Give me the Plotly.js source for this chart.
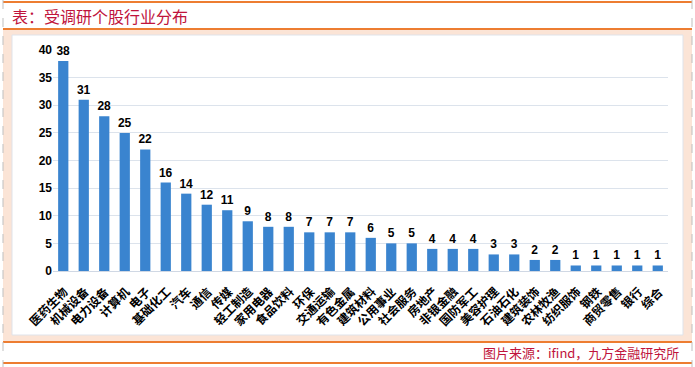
<!DOCTYPE html>
<html><head><meta charset="utf-8">
<script src="https://cdn.plot.ly/plotly-3.0.1.min.js"></script>
<style>html,body{margin:0;padding:0;background:#fff;}#chart{width:695px;height:367px;}</style>
</head><body><div id="chart"></div>
<script>
const categories = ["医药生物","机械设备","电力设备","计算机","电子","基础化工","汽车","通信","传媒","轻工制造","家用电器","食品饮料","环保","交通运输","有色金属","建筑材料","公用事业","社会服务","房地产","非银金融","国防军工","美容护理","石油石化","建筑装饰","农林牧渔","纺织服饰","钢铁","商贸零售","银行","综合"];
const counts = [38,31,28,25,22,16,14,12,11,9,8,8,7,7,7,6,5,5,4,4,4,3,3,2,2,1,1,1,1,1];
const yTicks = [0,5,10,15,20,25,30,35,40];
const titleText = "表：受调研个股行业分布";
const sourceText = "图片来源：ifind，九方金融研究所";

const W=695,H=367,L=53,R=27,T=50,B=96;
const pw=W-L-R, ph=H-T-B;
const px=v=>(v-L)/pw, py=v=>(H-B-v)/ph;

const shapes=[
 {type:'rect',xref:'paper',yref:'paper',x0:px(3),x1:px(692),y0:py(30),y1:py(342),fillcolor:'#fbe4d6',line:{width:0},layer:'below'},
 {type:'rect',xref:'paper',yref:'paper',x0:px(12),x1:px(683),y0:py(35),y1:py(335),fillcolor:'#ffffff',line:{color:'#dfe3ea',width:1},layer:'below'},
 {type:'line',xref:'paper',yref:'paper',x0:px(3),x1:px(692),y0:py(2),y1:py(2),line:{color:'#ed7d31',width:2}},
 {type:'line',xref:'paper',yref:'paper',x0:px(3),x1:px(692),y0:py(29),y1:py(29),line:{color:'#ed7d31',width:2}},
 {type:'line',xref:'paper',yref:'paper',x0:px(3),x1:px(692),y0:py(342),y1:py(342),line:{color:'#ed7d31',width:2}},
 {type:'line',xref:'paper',yref:'paper',x0:px(3),x1:px(692),y0:py(363),y1:py(363),line:{color:'#ed7d31',width:2}},
 {type:'line',xref:'paper',yref:'paper',x0:px(3),x1:px(3),y0:py(0),y1:py(367),line:{color:'#bfbfbf',width:1,dash:'dash'}},
 {type:'line',xref:'paper',yref:'paper',x0:px(692),x1:px(692),y0:py(0),y1:py(367),line:{color:'#bfbfbf',width:1,dash:'dash'}}
];

const trace={type:'bar',x:categories,y:counts,text:counts.map(String),textposition:'outside',cliponaxis:false,
 constraintext:'none',
 textfont:{family:'Arial, Liberation Sans, sans-serif',size:12,color:'#000',weight:'bold'},
 marker:{color:'#3a84cf',line:{width:0}},hoverinfo:'none'};

const FS=12;
const catLabels = categories.map(c=>{
  const half=c.length*FS/2/Math.SQRT2;
  return {xref:'x',yref:'paper',x:c,y:py(289),xanchor:'center',yanchor:'middle',
  xshift:2-half,yshift:-half,textangle:-45,text:'<b>'+c+'</b>',showarrow:false,
  font:{family:'Noto Sans CJK SC, sans-serif',size:FS,color:'#000'}};});

const layout={width:W,height:H,margin:{l:L,r:R,t:T,b:B},
 paper_bgcolor:'rgba(0,0,0,0)',plot_bgcolor:'rgba(0,0,0,0)',showlegend:false,bargap:0.5,
 font:{family:'Noto Sans CJK SC, sans-serif',color:'#000'},
 xaxis:{type:'category',range:[-0.5,categories.length-0.5],autorange:false,showticklabels:false,
   showline:true,linecolor:'#d0d8e4',linewidth:1,ticks:'',showgrid:false,fixedrange:true},
 yaxis:{range:[0,40],tickvals:yTicks,ticktext:yTicks.map(String),showgrid:true,gridcolor:'#dce3ec',zeroline:false,
   showline:false,ticks:'',ticklen:0,tickfont:{family:'Arial, Liberation Sans, sans-serif',size:12,color:'#000',weight:'bold'},fixedrange:true},
 shapes:shapes,
 annotations:[
  {xref:'paper',yref:'paper',x:px(10),y:py(16),xanchor:'left',yanchor:'middle',text:titleText,showarrow:false,
   font:{family:'Noto Sans CJK SC, sans-serif',size:16,color:'#c0143c'}},
  {xref:'paper',yref:'paper',x:px(681),y:py(352),xanchor:'right',yanchor:'middle',text:sourceText,showarrow:false,
   font:{family:'Noto Sans CJK SC, sans-serif',size:13,color:'#c0143c'}}
 ].concat(catLabels)};
Plotly.newPlot('chart',[trace],layout,{staticPlot:true,displayModeBar:false});
</script></body></html>
